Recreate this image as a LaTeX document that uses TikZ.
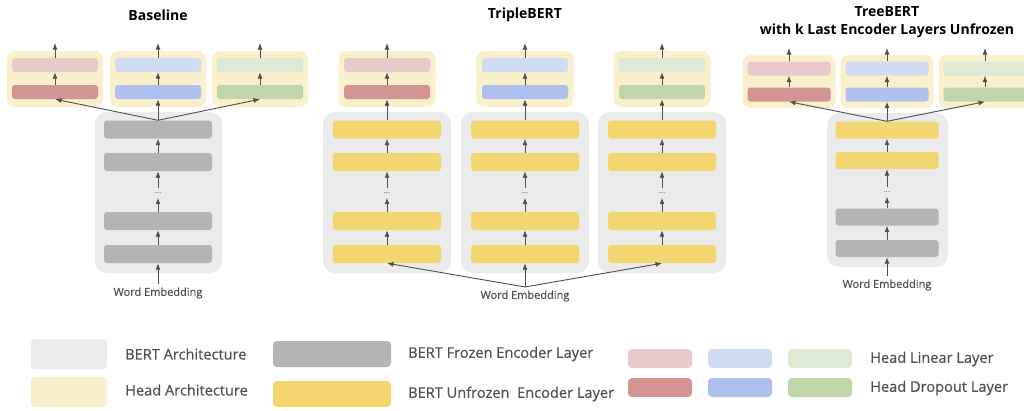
\documentclass[tikz,border=0pt]{standalone}
\usepackage{fontspec}
\setmainfont{Open Sans}
\newfontfamily\mediumfont[FakeBold=0.4]{Open Sans}
\usetikzlibrary{positioning, arrows.meta, calc}

\begin{document}
\begin{tikzpicture}[x=1pt, y=-1pt, >={Latex[length=6.5pt,width=5pt]}, every node/.style={font=\small}]
    % Define colors for different blocks
    \definecolor{bertgray}{RGB}{235,235,235}
    \definecolor{headyellow}{RGB}{250,240,204}
    \definecolor{frozengray}{RGB}{180,180,180}
    \definecolor{unfrozenyellow}{RGB}{244,214,112}
    \definecolor{linred}{RGB}{232,202,202}
    \definecolor{dropred}{RGB}{212,148,148}
    \definecolor{linblue}{RGB}{208,220,242}
    \definecolor{dropblue}{RGB}{174,192,238}
    \definecolor{lingreen}{RGB}{222,233,212}
    \definecolor{dropgreen}{RGB}{192,214,168}
    \definecolor{arrowgray}{RGB}{80,80,80}
    \definecolor{textgray}{RGB}{80,80,80}
    % Define block styles
    \tikzset{
        bert/.style={fill=bertgray, rounded corners=12pt, inner sep=0pt, minimum width=#1},
        head/.style={fill=headyellow, rounded corners=8pt, inner sep=0pt, minimum width=#1},
        layer/.style={rounded corners=3pt, inner sep=0pt, minimum height=18pt, minimum width=#1},
        hlayer/.style={rounded corners=3pt, inner sep=0pt, minimum height=14pt, minimum width=#1},
        swatch/.style={rounded corners=4pt, inner sep=0pt},
        dots/.style={inner sep=0pt, minimum height=9pt, font=\fontsize{8}{8}\selectfont, text=textgray},
        title/.style={font=\bfseries\fontsize{14}{18}\selectfont, align=center},
        embed/.style={font=\mediumfont\fontsize{11}{13}\selectfont, text=textgray},
        legend/.style={font=\mediumfont\fontsize{14.6}{16}\selectfont, text=textgray, anchor=west, inner sep=0pt},
        flow/.style={->, draw=arrowgray, line width=0.9pt},
    }
    \clip (0,0) rectangle (1024,410);

    % Baseline
    \node[title] (tbase) at (158,15) {Baseline};
    \node[bert=127pt, minimum height=161pt] (bbert) at (158.5,192.5) {};
    \node[layer=108pt, fill=frozengray] (b1) at (158,129.5) {};
    \node[layer=108pt, fill=frozengray] (b2) at (158,162) {};
    \node[dots] (bdots) at (158,193) {...};
    \node[layer=108pt, fill=frozengray] (b3) at (158,221) {};
    \node[layer=108pt, fill=frozengray] (b4) at (158,254) {};
    \node[embed] (bwe) at (158,293) {Word Embedding};
    \draw[flow] (bwe) -- (b4);
    \draw[flow] (b4) -- (b3);
    \draw[flow] (b3) -- (bdots);
    \draw[flow] (bdots) -- (b2);
    \draw[flow] (b2) -- (b1);
    \foreach \x/\c/\n in {55/red/1, 158/blue/2, 260/green/3}{
        \node[head=96pt, minimum height=56pt] (bh\n) at (\x,79) {};
        \node[hlayer=86pt, fill=lin\c] (bl\n) at (\x,65) {};
        \node[hlayer=86pt, fill=drop\c] (bd\n) at (\x,92) {};
        \coordinate (bo\n) at (\x,43);
        \draw[flow] (bl\n) -- (bo\n);
        \draw[flow] (bd\n) -- (bl\n);
        \draw[flow] (b1.north) -- (bd\n.south);
    }

    % TripleBERT
    \node[title] (ttriple) at (525,15) {TripleBERT};
    \node[embed] (twe) at (525,296) {Word Embedding};
    \foreach \x/\c/\n in {387/red/1, 525/blue/2, 662/green/3}{
        \node[bert=128pt, minimum height=161pt] (tbert\n) at (\x,192.5) {};
        \node[layer=108pt, fill=unfrozenyellow] (t\n a) at (\x,129.5) {};
        \node[layer=108pt, fill=unfrozenyellow] (t\n b) at (\x,162) {};
        \node[dots] (t\n dots) at (\x,193) {...};
        \node[layer=108pt, fill=unfrozenyellow] (t\n c) at (\x,221) {};
        \node[layer=108pt, fill=unfrozenyellow] (t\n d) at (\x,254) {};
        \node[head=97pt, minimum height=56pt] (th\n) at (\x,79) {};
        \node[hlayer=86pt, fill=lin\c] (tl\n) at (\x,65) {};
        \node[hlayer=86pt, fill=drop\c] (td\n) at (\x,92) {};
        \coordinate (to\n) at (\x,43);
        \draw[flow] (twe.north) -- (t\n d.south);
        \draw[flow] (t\n d) -- (t\n c);
        \draw[flow] (t\n c) -- (t\n dots);
        \draw[flow] (t\n dots) -- (t\n b);
        \draw[flow] (t\n b) -- (t\n a);
        \draw[flow] (t\n a) -- (td\n);
        \draw[flow] (td\n) -- (tl\n);
        \draw[flow] (tl\n) -- (to\n);
    }

    % TreeBERT
    \node[title] (ttree) at (887,22) {TreeBERT\\with k Last Encoder Layers Unfrozen};
    \node[bert=121pt, minimum height=154pt] (rbert) at (887.5,190) {};
    \node[layer=103pt, minimum height=17pt, fill=unfrozenyellow] (r1) at (887,130) {};
    \node[layer=103pt, minimum height=17pt, fill=unfrozenyellow] (r2) at (887,160.5) {};
    \node[dots] (rdots) at (887,192) {...};
    \node[layer=103pt, minimum height=17pt, fill=frozengray] (r3) at (887,217) {};
    \node[layer=103pt, minimum height=17pt, fill=frozengray] (r4) at (887,248.5) {};
    \node[embed] (rwe) at (887,285) {Word Embedding};
    \draw[flow] (rwe) -- (r4);
    \draw[flow] (r4) -- (r3);
    \draw[flow] (r3) -- (rdots);
    \draw[flow] (rdots) -- (r2);
    \draw[flow] (r2) -- (r1);
    \foreach \x/\c/\n in {789/red/1, 887/blue/2, 985/green/3}{
        \node[head=93pt, minimum height=53pt] (rh\n) at (\x,81.5) {};
        \node[hlayer=83pt, fill=lin\c] (rl\n) at (\x,68.5) {};
        \node[hlayer=83pt, fill=drop\c] (rd\n) at (\x,94.5) {};
        \coordinate (ro\n) at (\x,48);
        \draw[flow] (rl\n) -- (ro\n);
        \draw[flow] (rd\n) -- (rl\n);
        \draw[flow] (r1.north) -- (rd\n.south);
    }

    % Legend
    \node[swatch, fill=bertgray, minimum width=76pt, minimum height=30pt] (lgbert) at (69,354) {};
    \node[legend] (lgberttext) at (125,354) {BERT Architecture};
    \node[swatch, fill=headyellow, minimum width=76pt, minimum height=30pt] (lghead) at (69,392) {};
    \node[legend] (lgheadtext) at (125,390) {Head Architecture};
    \node[swatch, fill=frozengray, minimum width=118pt, minimum height=26pt] (lgfrozen) at (332,354) {};
    \node[legend] (lgfrozentext) at (408,354) {BERT Frozen Encoder Layer};
    \node[swatch, fill=unfrozenyellow, minimum width=118pt, minimum height=26pt] (lgunfrozen) at (332,394) {};
    \node[legend] (lgunfrozentext) at (408,394) {BERT Unfrozen~ Encoder Layer};
    \foreach \x/\c in {660/red, 740/blue, 820/green}{
        \node[swatch, fill=lin\c, minimum width=64pt, minimum height=19pt] (lglin\c) at (\x,358.5) {};
        \node[swatch, fill=drop\c, minimum width=64pt, minimum height=19pt] (lgdrop\c) at (\x,387.5) {};
    }
    \node[legend] (lglintext) at (870,359) {Head Linear Layer};
    \node[legend] (lgdroptext) at (870,388) {Head Dropout Layer};

\end{tikzpicture}
\end{document}
